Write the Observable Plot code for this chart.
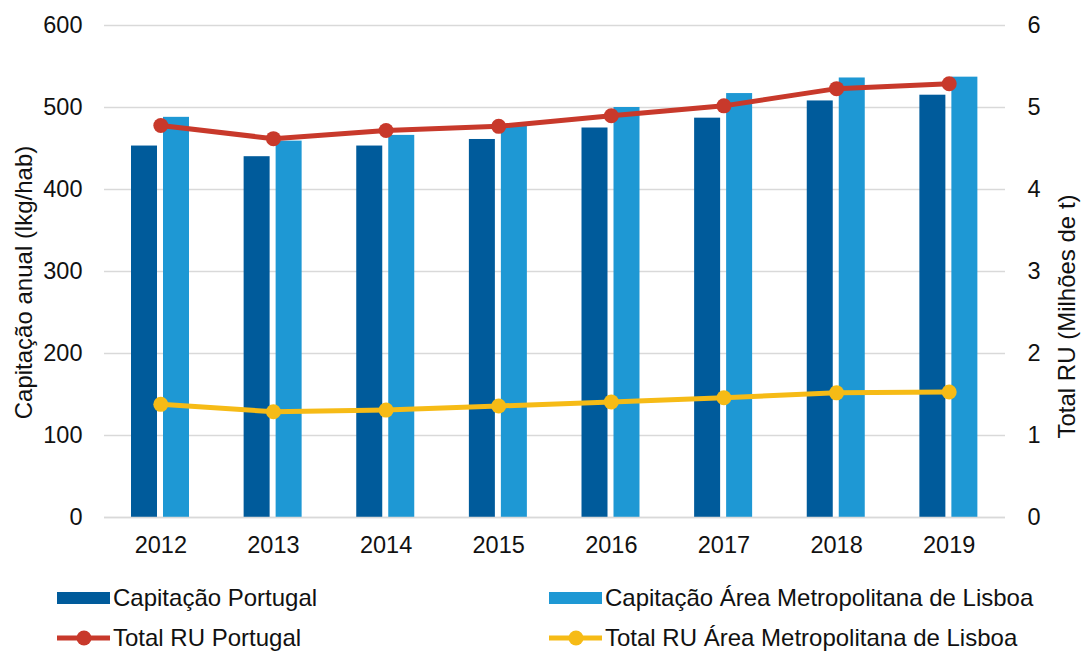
<!DOCTYPE html>
<html>
<head>
<meta charset="utf-8">
<script src="https://cdn.jsdelivr.net/npm/d3@7"></script>
<script src="https://cdn.jsdelivr.net/npm/@observablehq/plot@0.6"></script>
<style>
  body { margin: 0; background: #fff; font-family: "Liberation Sans", Arial, sans-serif; }
  #chart svg { display: block; }
  .legend { position: relative; height: 82px; font-size: 24px; color: #111; }
  .item { position: absolute; display: flex; align-items: center; white-space: nowrap; }
  .item svg { margin-right: 3px; }
</style>
</head>
<body>
<div id="chart"></div>
<div class="legend" id="legend"></div>
<script>
const years = ["2012","2013","2014","2015","2016","2017","2018","2019"];
const capPortugal = [453, 440, 453, 461, 475, 487, 508, 515];
const capLisboa   = [488, 459, 466, 479, 500, 517, 536, 537];
const totalPortugal = [4.78, 4.62, 4.72, 4.77, 4.90, 5.02, 5.23, 5.29];
const totalLisboa   = [1.38, 1.29, 1.31, 1.36, 1.41, 1.46, 1.52, 1.53];
const leftTicks = [0, 100, 200, 300, 400, 500, 600];
const rightTicks = [0, 1, 2, 3, 4, 5, 6];
const rightFactor = 100; // right axis (Milhões de t) mapped onto left scale
const leftTitle = "Capitação anual (lkg/hab)";
const rightTitle = "Total RU (Milhões de t)";

const seriesNames = ["Capitação Portugal", "Capitação Área Metropolitana de Lisboa", "Total RU Portugal", "Total RU Área Metropolitana de Lisboa"];
const colors = ["#005b9b", "#1e98d4", "#c8392b", "#f6bb16"];

const barsPT = years.map((y, i) => ({year: y, v: capPortugal[i]}));
const barsLX = years.map((y, i) => ({year: y, v: capLisboa[i]}));
const linePT = years.map((y, i) => ({year: y, v: totalPortugal[i] * rightFactor}));
const lineLX = years.map((y, i) => ({year: y, v: totalLisboa[i] * rightFactor}));

const bw = (1086 - 104 - 81) / years.length;
const fs = 23.5;

const plot = Plot.plot({
  width: 1086,
  height: 570,
  marginLeft: 104,
  marginRight: 81,
  marginTop: 25,
  marginBottom: 53,
  style: {fontFamily: "'Liberation Sans', Arial, sans-serif", fontSize: fs + "px", color: "#111", background: "#fff"},
  x: {type: "band", domain: years, padding: 0, round: false, label: null},
  y: {domain: [0, 600], label: null},
  marks: [
    Plot.gridY(leftTicks, {stroke: "#d9d9d9", strokeOpacity: 1, strokeWidth: 1.5}),
    Plot.barY(barsPT, {x: "year", y: "v", fill: colors[0], insetLeft: 27, insetRight: bw - 53}),
    Plot.barY(barsLX, {x: "year", y: "v", fill: colors[1], insetLeft: 59, insetRight: bw - 85}),
    Plot.ruleY([0], {stroke: "#d9d9d9", strokeWidth: 1.5}),
    Plot.line(linePT, {x: "year", y: "v", stroke: colors[2], strokeWidth: 5}),
    Plot.dot(linePT, {x: "year", y: "v", fill: colors[2], r: 7.5}),
    Plot.line(lineLX, {x: "year", y: "v", stroke: colors[3], strokeWidth: 5}),
    Plot.dot(lineLX, {x: "year", y: "v", fill: colors[3], r: 7.5}),
    Plot.axisX({tickSize: 0, tickPadding: 19, fontSize: fs, label: null}),
    Plot.axisY(leftTicks, {anchor: "left", tickSize: 0, tickPadding: 22, fontSize: fs, label: null}),
    Plot.axisY(rightTicks.map(d => d * rightFactor), {anchor: "right", tickSize: 0, tickPadding: 22, fontSize: fs,
      tickFormat: d => d / rightFactor, label: null}),
    Plot.text([leftTitle], {text: d => d, frameAnchor: "left", rotate: -90, dx: -80, dy: 11,
      lineAnchor: "middle", textAnchor: "middle", fontSize: 24, fill: "#111"}),
    Plot.text([rightTitle], {text: d => d, frameAnchor: "right", rotate: -90, dx: 62, dy: 45,
      lineAnchor: "middle", textAnchor: "middle", fontSize: 24, fill: "#111"})
  ]
});
document.getElementById("chart").appendChild(plot);

// legend
const legend = document.getElementById("legend");
const pos = [[57, 28], [549, 28], [57, 68], [549, 68]];
seriesNames.forEach((name, i) => {
  const div = document.createElement("div");
  div.className = "item";
  div.style.left = pos[i][0] + "px";
  div.style.top = (pos[i][1] - 14) + "px";
  let sym;
  if (i < 2) {
    sym = `<svg width="53" height="28"><rect x="0" y="8" width="53" height="12" fill="${colors[i]}"/></svg>`;
  } else {
    sym = `<svg width="53" height="28"><line x1="0" x2="53" y1="14" y2="14" stroke="${colors[i]}" stroke-width="5"/><circle cx="27" cy="14" r="7.5" fill="${colors[i]}"/></svg>`;
  }
  div.innerHTML = sym + `<span>${name}</span>`;
  legend.appendChild(div);
});
</script>
</body>
</html>
